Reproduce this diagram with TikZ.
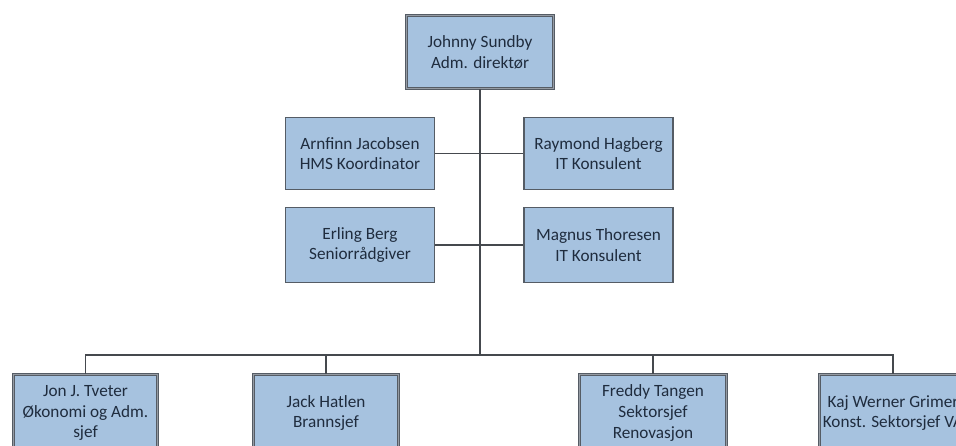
\documentclass[tikz,border=0pt]{standalone}
\usepackage{fontspec}
\setmainfont{Carlito}
\definecolor{boxfill}{HTML}{A6C2DF}
\definecolor{boxline}{HTML}{555C65}
\definecolor{bandcol}{HTML}{959BA3}
\definecolor{txtcol}{HTML}{1F2C3E}
\definecolor{linecol}{HTML}{45494E}
\tikzset{
  person/.style={draw=boxline, fill=boxfill, line width=1.8pt, align=center,
    text=txtcol, inner sep=0pt, font=\fontsize{17.2}{20.8}\selectfont},
  chief/.style={person, line width=1pt, double=bandcol, double distance=1.8pt},
  conn/.style={draw=linecol, line width=1.3pt}
}
\begin{document}
\begin{tikzpicture}[x=1pt,y=-1pt]
\useasboundingbox (0,0) rectangle (956,446);
\clip (0,0) rectangle (956,446);
\node[chief, minimum width=147pt, minimum height=73pt] (top) at (480,52) {Johnny Sundby\\Adm. direktør};
\node[person, minimum width=149pt, minimum height=72pt] (arn) at (360,153.5) {Arnfinn Jacobsen\\HMS Koordinator};
\node[person, minimum width=149pt, minimum height=72pt] (ray) at (598.5,153.5) {Raymond Hagberg\\IT Konsulent};
\node[person, minimum width=149pt, minimum height=75pt] (erl) at (360,245) {Erling Berg\\Seniorrådgiver};
\node[person, minimum width=149pt, minimum height=75pt] (mag) at (598.5,245) {Magnus Thoresen\\IT Konsulent};
\node[chief, minimum width=144pt, minimum height=77pt] (jon) at (85.5,413) {Jon J. Tveter\\Økonomi og Adm.\\sjef};
\node[chief, minimum width=145pt, minimum height=77pt] (jack) at (326,413) {Jack Hatlen\\Brannsjef};
\node[chief, minimum width=147pt, minimum height=77pt] (fred) at (653,413) {Freddy Tangen\\Sektorsjef\\Renovasjon};
\node[chief, minimum width=147pt, minimum height=77pt] (kaj) at (893,413) {Kaj Werner Grimer\\Konst. Sektorsjef VA};
\coordinate (bus) at (480,355);
\draw[conn] (top.south) -- (bus);
\draw[conn] (arn.east) -- (ray.west);
\draw[conn] (erl.east) -- (mag.west);
\draw[conn] (jon.north) |- (bus) -| (kaj.north);
\draw[conn] (jack.north) -- (jack.north |- bus);
\draw[conn] (fred.north) -- (fred.north |- bus);
\end{tikzpicture}
\end{document}
